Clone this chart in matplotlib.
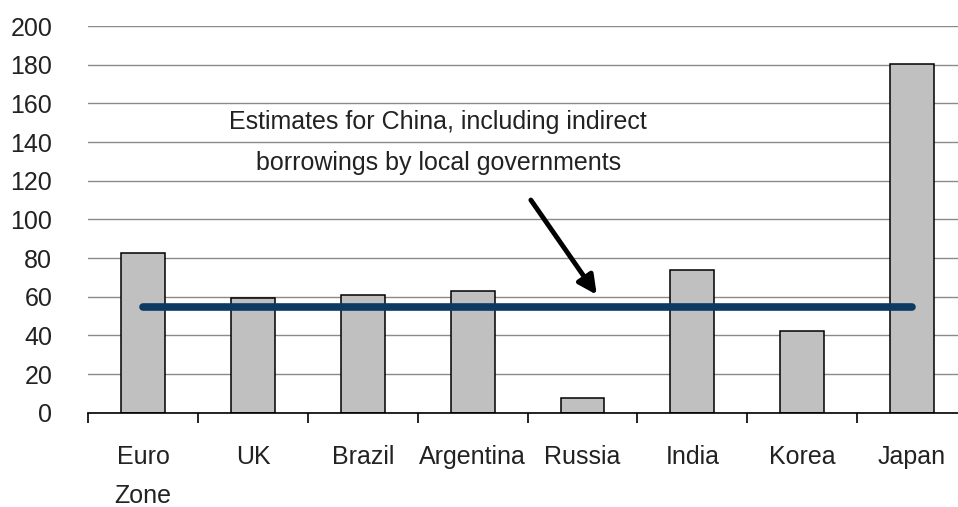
import numpy as np
import matplotlib
matplotlib.use("Agg")
import matplotlib.pyplot as plt
from matplotlib.ticker import FixedLocator

# data
countries = ["Euro\nZone", "UK", "Brazil", "Argentina", "Russia", "India", "Korea", "Japan"]
debt_values = [82.4, 59.5, 60.9, 62.8, 7.8, 73.8, 42.3, 180.2]
china_estimate = 54.5
y_ticks = [0, 20, 40, 60, 80, 100, 120, 140, 160, 180, 200]
note_lines = ["Estimates for China, including indirect", "borrowings by local governments"]

plt.rcParams['font.family'] = ['Liberation Sans', 'DejaVu Sans']

fig = plt.figure(figsize=(9.58, 5.07), dpi=100)
# right edge of the plot sits just past the picture, as in the reference
ax = fig.add_axes([0.0922, 0.186, 0.917, 0.7627])

x = np.arange(len(countries))
ax.bar(x, debt_values, width=0.4, color='#c0c0c0', edgecolor='black', linewidth=1.1, zorder=2)

# China estimate line across the categories
ax.plot([x[0], x[-1]], [china_estimate, china_estimate], color='#0d3a62', lw=5.5,
        solid_capstyle='round', zorder=3)

ax.set_xlim(-0.5, len(countries) - 0.5)
ax.set_ylim(0, 200)
ax.set_yticks(y_ticks)
ax.yaxis.grid(True, color='#8a8a8a', linewidth=1.0, zorder=0)
ax.set_axisbelow(True)

for side in ['left', 'right', 'top']:
    ax.spines[side].set_visible(False)
ax.spines['bottom'].set_linewidth(1.2)
ax.spines['bottom'].set_zorder(4)

ax.set_xticks(x)
ax.set_xticklabels(countries, linespacing=1.8)
ax.xaxis.set_minor_locator(FixedLocator(np.arange(-0.5, len(countries), 1.0)))
ax.tick_params(axis='x', which='major', length=0, pad=23, labelsize=18, labelcolor='#222222')
ax.tick_params(axis='x', which='minor', length=7, width=1.2, direction='out', color='black')
ax.tick_params(axis='y', length=0, pad=26, labelsize=18, labelcolor='#222222')

# annotation text and arrow
ax.text(2.685, 150.3, note_lines[0], ha='center', va='center', fontsize=18, color='#222222')
ax.text(2.685, 129.1, note_lines[1], ha='center', va='center', fontsize=18, color='#222222')
ax.annotate('', xy=(4.13, 61), xytext=(3.53, 110),
            arrowprops=dict(arrowstyle='-|>', lw=3.5, color='black', mutation_scale=28,
                            shrinkA=0, shrinkB=0))

fig.savefig('out.png', dpi=100)
